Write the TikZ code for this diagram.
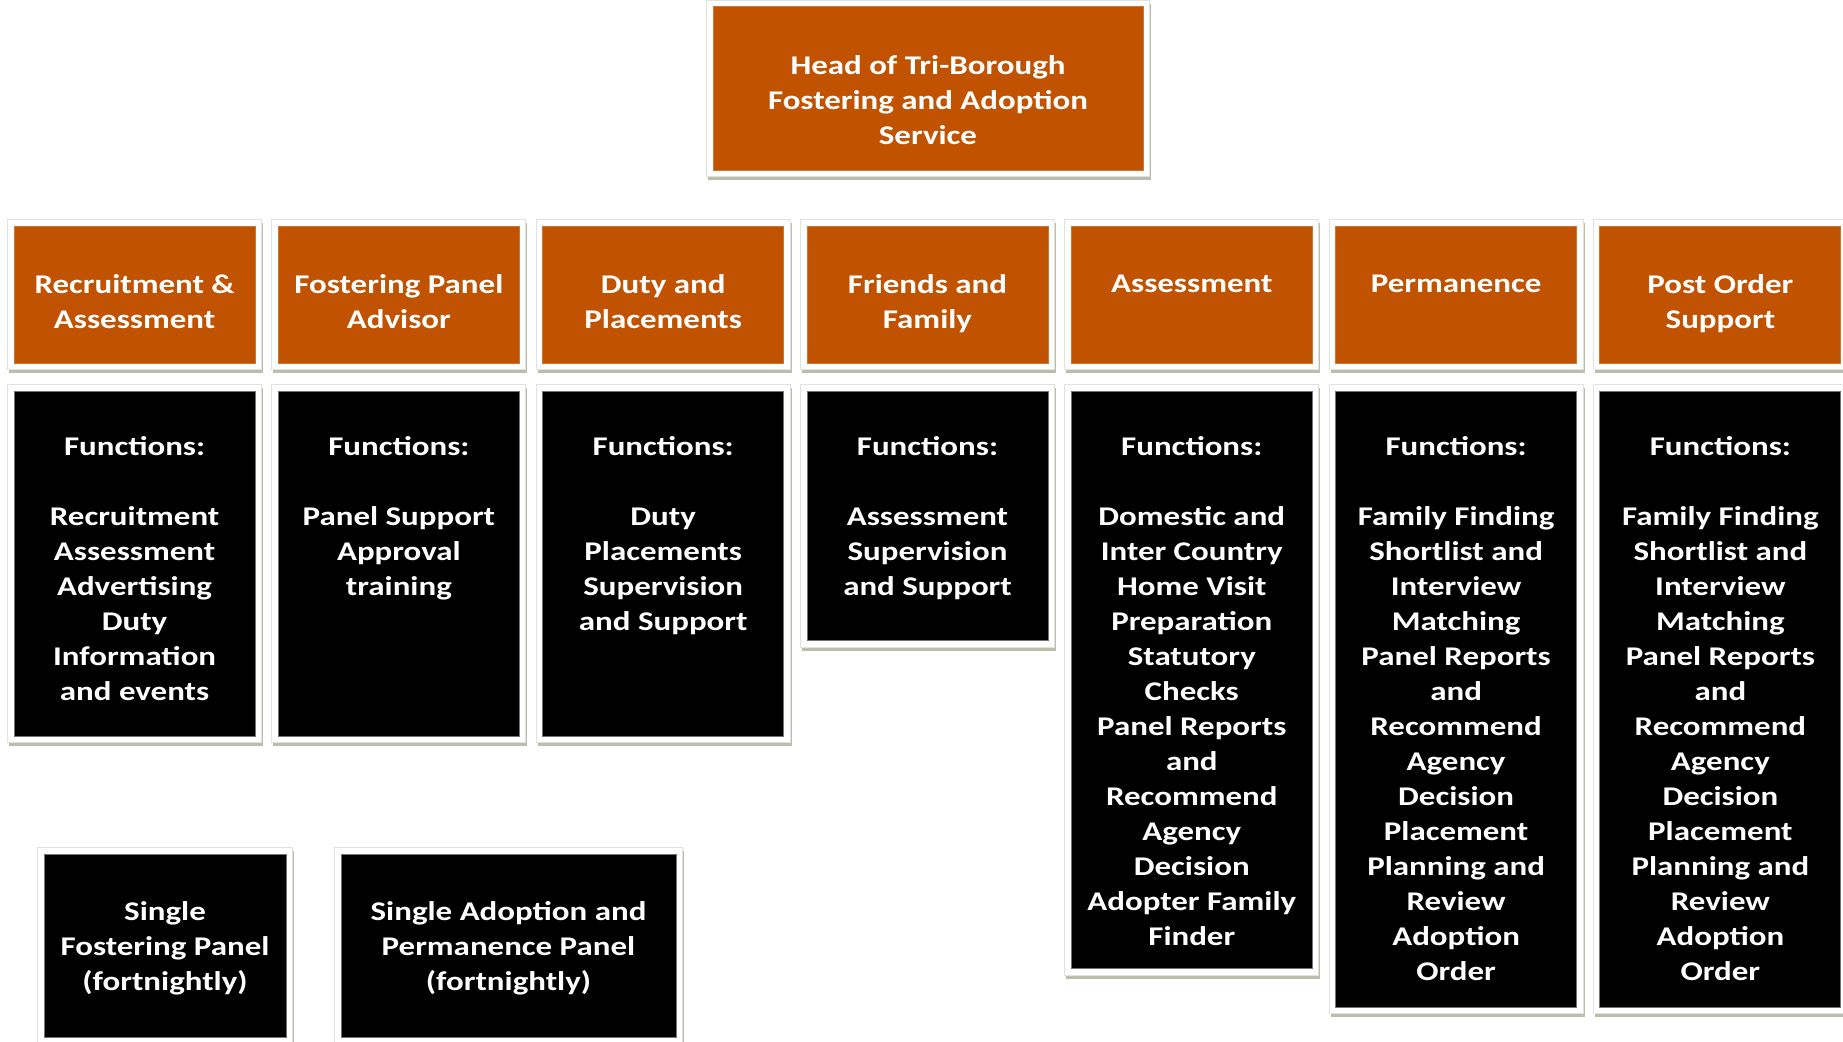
\documentclass[tikz,border=0pt]{standalone}
\usepackage{fontspec}
\newfontfamily\boxfont[FakeStretch=1.22]{Carlito}
\usepackage{tikz}
\definecolor{headorange}{RGB}{192,82,0}
\definecolor{framegrey}{RGB}{224,226,222}
\definecolor{shadowgrey}{RGB}{186,190,170}

\begin{document}
\begin{tikzpicture}[x=1pt, y=-1pt,
    framed/.style={preaction={draw=shadowgrey, line width=13pt, transform canvas={xshift=1.5pt, yshift=-3.5pt}},
                   preaction={draw=framegrey, line width=14pt},
                   preaction={draw=white, line width=12pt}},
    orangebox/.style={framed, rectangle, fill=headorange, draw=headorange!80!white, line width=1pt, inner sep=0pt},
    blackbox/.style={framed, rectangle, fill=black, draw=black!55, line width=1pt, inner sep=0pt},
    boxtext/.style={text=white, align=center, inner sep=0pt, font=\boxfont\bfseries\fontsize{27}{35}\selectfont}]
    \useasboundingbox (0,0) rectangle (1843,1041);

    % head of service
    \node[orangebox, minimum width=430pt, minimum height=163pt] (head) at (928,88.5) {};
    \node[boxtext, anchor=north] (headlbl) at (928,55.5) {Head of Tri-Borough\\Fostering and Adoption\\Service};

    % team boxes
    \node[orangebox, minimum width=241pt, minimum height=137pt] (recruit)   at (134.6,294.5) {};
    \node[orangebox, minimum width=241pt, minimum height=137pt] (fpanel)    at (398.9,294.5) {};
    \node[orangebox, minimum width=241pt, minimum height=137pt] (duty)      at (663.2,294.5) {};
    \node[orangebox, minimum width=241pt, minimum height=137pt] (friends)   at (927.5,294.5) {};
    \node[orangebox, minimum width=241pt, minimum height=137pt] (assess)    at (1191.8,294.5) {};
    \node[orangebox, minimum width=241pt, minimum height=137pt] (perm)      at (1456.1,294.5) {};
    \node[orangebox, minimum width=241pt, minimum height=137pt] (postorder) at (1720.4,294.5) {};

    \node[boxtext, anchor=north] (recruitlbl)   at (134.6,274)  {Recruitment \&\\Assessment};
    \node[boxtext, anchor=north] (fpanellbl)    at (398.9,274)  {Fostering Panel\\Advisor};
    \node[boxtext, anchor=north] (dutylbl)      at (663.2,274)  {Duty and\\Placements};
    \node[boxtext, anchor=north] (friendslbl)   at (927.5,274)  {Friends and\\Family};
    \node[boxtext, anchor=north] (assesslbl)    at (1191.8,275) {Assessment};
    \node[boxtext, anchor=north] (permlbl)      at (1456.1,275) {Permanence};
    \node[boxtext, anchor=north] (postorderlbl) at (1720.4,274) {Post Order\\Support};

    % functions
    \node[blackbox, minimum width=241pt, minimum height=345pt] (recruitfn)   at (134.6,563.5) {};
    \node[blackbox, minimum width=241pt, minimum height=345pt] (fpanelfn)    at (398.9,563.5) {};
    \node[blackbox, minimum width=241pt, minimum height=345pt] (dutyfn)      at (663.2,563.5) {};
    \node[blackbox, minimum width=241pt, minimum height=249.5pt] (friendsfn) at (927.5,515.75) {};
    \node[blackbox, minimum width=241pt, minimum height=577.5pt] (assessfn)  at (1191.8,679.75) {};
    \node[blackbox, minimum width=241pt, minimum height=616pt] (permfn)      at (1456.1,699) {};
    \node[blackbox, minimum width=241pt, minimum height=616pt] (postorderfn) at (1720.4,699) {};

    \node[boxtext, anchor=north] (recruitfnlbl) at (134.6,436)
        {Functions:\\[35pt]Recruitment\\Assessment\\Advertising\\Duty\\Information\\and events};
    \node[boxtext, anchor=north] (fpanelfnlbl) at (398.9,436)
        {Functions:\\[35pt]Panel Support\\Approval\\training};
    \node[boxtext, anchor=north] (dutyfnlbl) at (663.2,436)
        {Functions:\\[35pt]Duty\\Placements\\Supervision\\and Support};
    \node[boxtext, anchor=north] (friendsfnlbl) at (927.5,436)
        {Functions:\\[35pt]Assessment\\Supervision\\and Support};
    \node[boxtext, anchor=north] (assessfnlbl) at (1191.8,436)
        {Functions:\\[35pt]Domestic and\\Inter Country\\Home Visit\\Preparation\\Statutory\\Checks\\Panel Reports\\and\\Recommend\\Agency\\Decision\\Adopter Family\\Finder};
    \node[boxtext, anchor=north] (permfnlbl) at (1456.1,436)
        {Functions:\\[35pt]Family Finding\\Shortlist and\\Interview\\Matching\\Panel Reports\\and\\Recommend\\Agency\\Decision\\Placement\\Planning and\\Review\\Adoption\\Order};
    \node[boxtext, anchor=north] (postorderfnlbl) at (1720.4,436)
        {Functions:\\[35pt]Family Finding\\Shortlist and\\Interview\\Matching\\Panel Reports\\and\\Recommend\\Agency\\Decision\\Placement\\Planning and\\Review\\Adoption\\Order};

    % panels
    \node[blackbox, minimum width=242pt, minimum height=183pt] (fostpanel) at (165,945.5) {};
    \node[blackbox, minimum width=335pt, minimum height=183pt] (adoptpanel) at (508.5,945.5) {};
    \node[boxtext] (fostpanellbl)  at (165,948)   {Single\\Fostering Panel\\(fortnightly)};
    \node[boxtext] (adoptpanellbl) at (508.5,948) {Single Adoption and\\Permanence Panel\\(fortnightly)};
\end{tikzpicture}
\end{document}
